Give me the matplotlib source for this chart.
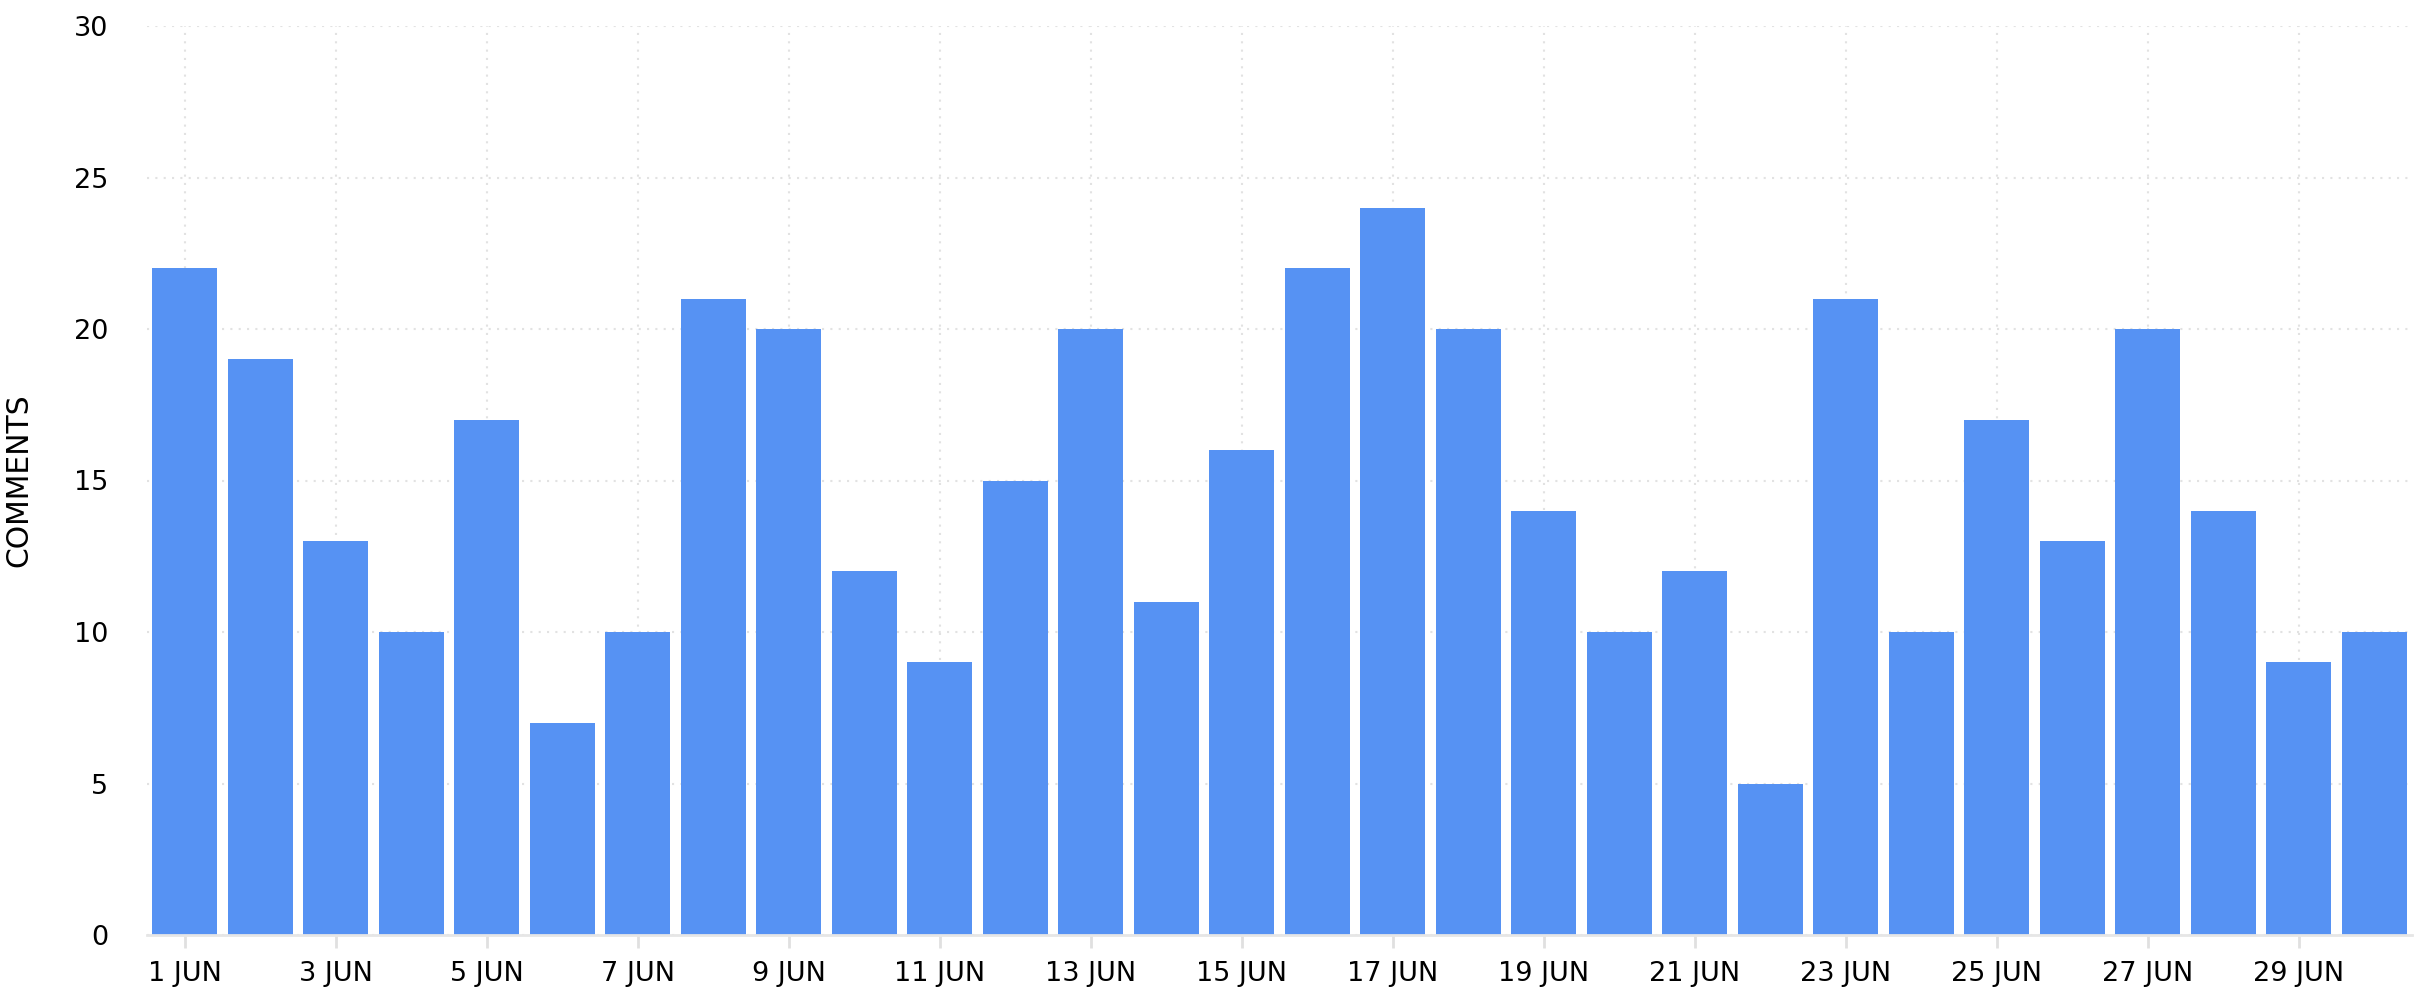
import matplotlib.pyplot as plt
import numpy as np

## data
days     = list(range(1, 31))
comments = [22, 19, 13, 10, 17, 7, 10, 21, 20, 12,
            9, 15, 20, 11, 16, 22, 24, 20, 14, 10,
            12, 5, 21, 10, 17, 13, 20, 14, 9, 10]
labels   = ['%d JUN' % d for d in days]

bar_col  = '#5692f3'
grid_col = '#e2e2e2'

## plot
fig = plt.figure(figsize=(24.25, 10), dpi=100)
ax  = fig.add_axes([0.0606, 0.065, 0.934, 0.909])

x = np.arange(len(days))
ax.bar(x, comments, width=0.86, color=bar_col, zorder=2)

ax.set_xlim(-0.5, len(days) - 0.5)
ax.set_ylim(0, 30)
ax.set_yticks(np.arange(0, 31, 5))
ax.set_xticks(x[::2])
ax.set_xticklabels(labels[::2])

ax.grid(True, color=grid_col, linestyle=(0, (1, 3)), linewidth=1.5, zorder=0)
for s in ['left', 'right', 'top']:
    ax.spines[s].set_visible(False)
ax.spines['bottom'].set_color('#e6e6e6')
ax.spines['bottom'].set_linewidth(2)

ax.tick_params(axis='x', colors='#e0e0e0', length=9, width=2, pad=10,
               labelcolor='black', labelsize=19.5)
ax.tick_params(axis='y', length=0, pad=28, labelsize=19.5)
ax.set_ylabel('COMMENTS', fontsize=21.5)
ax.yaxis.set_label_coords(-0.0503, 0.5)

fig.savefig('out.png', dpi=100)
